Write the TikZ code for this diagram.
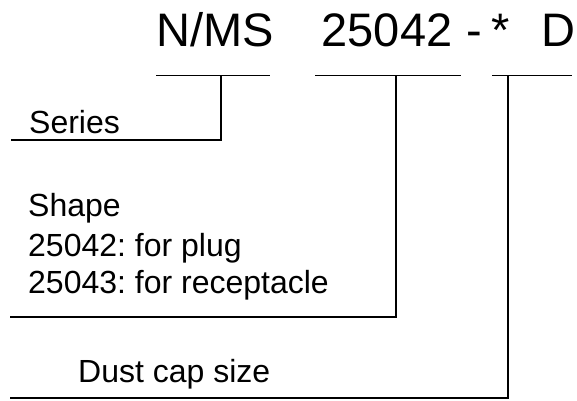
\documentclass[tikz,border=0pt]{standalone}
\usepackage{fontspec}
\setmainfont{Liberation Sans}
\frenchspacing
\begin{document}
\begin{tikzpicture}[x=1pt,y=1pt,
  lbl/.style={inner sep=0pt,anchor=base west,font=\fontsize{32}{38}\selectfont},
  ttl/.style={inner sep=0pt,anchor=base west,font=\fontsize{47}{52}\selectfont},
  ln/.style={line width=1.6pt,line cap=rect}]
\useasboundingbox (0,0) rectangle (577,400);
% title
\node[ttl] (nms) at (156.5,353) {N/MS};
\node[ttl] (num) at (321.5,353) {25042};
\node[ttl] (dash) at (466.5,353) {-};
\node[ttl] (star) at (491.5,353) {*};
\node[ttl] (d) at (541,353) {D};
% labels
\node[lbl] (series) at (29,267) {Series};
\node[lbl] (shape1) at (28,184) {Shape};
\node[lbl] (shape2) at (28,144) {25042: for plug};
\node[lbl] (shape3) at (28,107) {25043: for receptacle};
\node[lbl] (dust) at (78,18) {Dust cap size};
% bar coordinates
\coordinate (b1l) at (157,324.5); \coordinate (b1r) at (269,324.5);
\coordinate (b1m) at (221,324.5); \coordinate (b1c) at (221,260); \coordinate (b1e) at (12,260);
\coordinate (b2l) at (316,324.5); \coordinate (b2r) at (460,324.5);
\coordinate (b2m) at (396,324.5); \coordinate (b2c) at (396,83); \coordinate (b2e) at (11,83);
\coordinate (b3l) at (493,324.5); \coordinate (b3r) at (571,324.5);
\coordinate (b3m) at (508,324.5); \coordinate (b3c) at (508,2); \coordinate (b3e) at (11,2);
\draw[ln] (b1l) -- (b1r);
\draw[ln] (b1m) -- (b1c) -- (b1e);
\draw[ln] (b2l) -- (b2r);
\draw[ln] (b2m) -- (b2c) -- (b2e);
\draw[ln] (b3l) -- (b3r);
\draw[ln] (b3m) -- (b3c) -- (b3e);
\end{tikzpicture}
\end{document}
